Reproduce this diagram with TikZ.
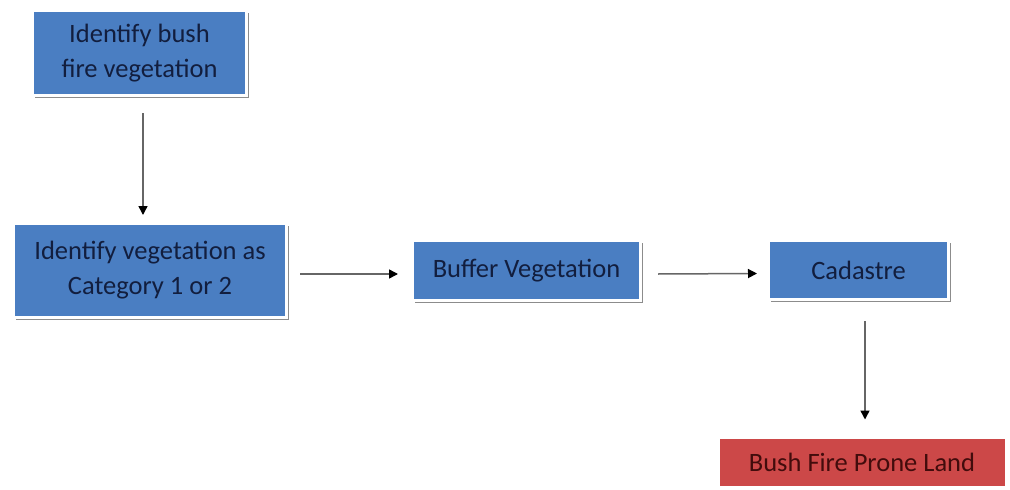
\documentclass[tikz,border=0pt]{standalone}
\usepackage{fontspec}
\setmainfont{Carlito}
\usetikzlibrary{arrows.meta,shadows}
\definecolor{stepblue}{RGB}{74,126,194}
\definecolor{stepred}{RGB}{204,72,72}
\definecolor{inkblue}{RGB}{18,30,62}
\definecolor{inkred}{RGB}{66,12,12}
\begin{document}
\begin{tikzpicture}[x=1pt,y=-1pt,
  stepbox/.style={fill=stepblue, draw=white, line width=3pt, text=inkblue,
    font=\fontsize{26.5}{35}\selectfont, align=center, inner sep=0pt,
    general shadow={fill=black!45, shadow xshift=2.5pt, shadow yshift=-2.5pt}},
  endbox/.style={fill=stepred, draw=white, line width=1pt, text=inkred,
    font=\fontsize{26.5}{35}\selectfont, align=center, inner sep=0pt},
  flow/.style={draw=black!60, line width=1.5pt,
    -{Triangle[length=9pt,width=9pt,fill=black,color=black]}}]
\useasboundingbox (0,0) rectangle (1010,490);
\fill[white] (0,0) rectangle (1010,490);

\node[stepbox, minimum width=214pt, minimum height=85pt] (n1) at (139.5,53) {Identify bush\\fire vegetation};
\node[stepbox, minimum width=273pt, minimum height=94pt] (n2) at (150,270.5) {Identify vegetation as\\Category 1 or 2};
\node[stepbox, minimum width=228pt, minimum height=60pt] (n3) at (526.5,270.5) {Buffer Vegetation};
\node[stepbox, minimum width=180pt, minimum height=59pt] (n4) at (858.5,270) {Cadastre};
\node[endbox, minimum width=286pt, minimum height=48pt] (n5) at (862,462) {Bush Fire Prone Land};

% yshift is a canvas length: negative values point down the page
\draw[flow] ([xshift=3.5pt,yshift=-16pt]n1.south) -- ([xshift=-7pt,yshift=7pt]n2.north);
\draw[flow] ([xshift=12pt,yshift=-3.5pt]n2.east) -- ([xshift=-13pt,yshift=-3.5pt]n3.west);
\draw[flow] ([xshift=16pt,yshift=-3.5pt]n3.east) -- ([xshift=-10pt,yshift=-3.5pt]n4.west);
\draw[flow] ([xshift=6.5pt,yshift=-20pt]n4.south) -- ([xshift=3pt,yshift=18pt]n5.north);
\end{tikzpicture}
\end{document}
